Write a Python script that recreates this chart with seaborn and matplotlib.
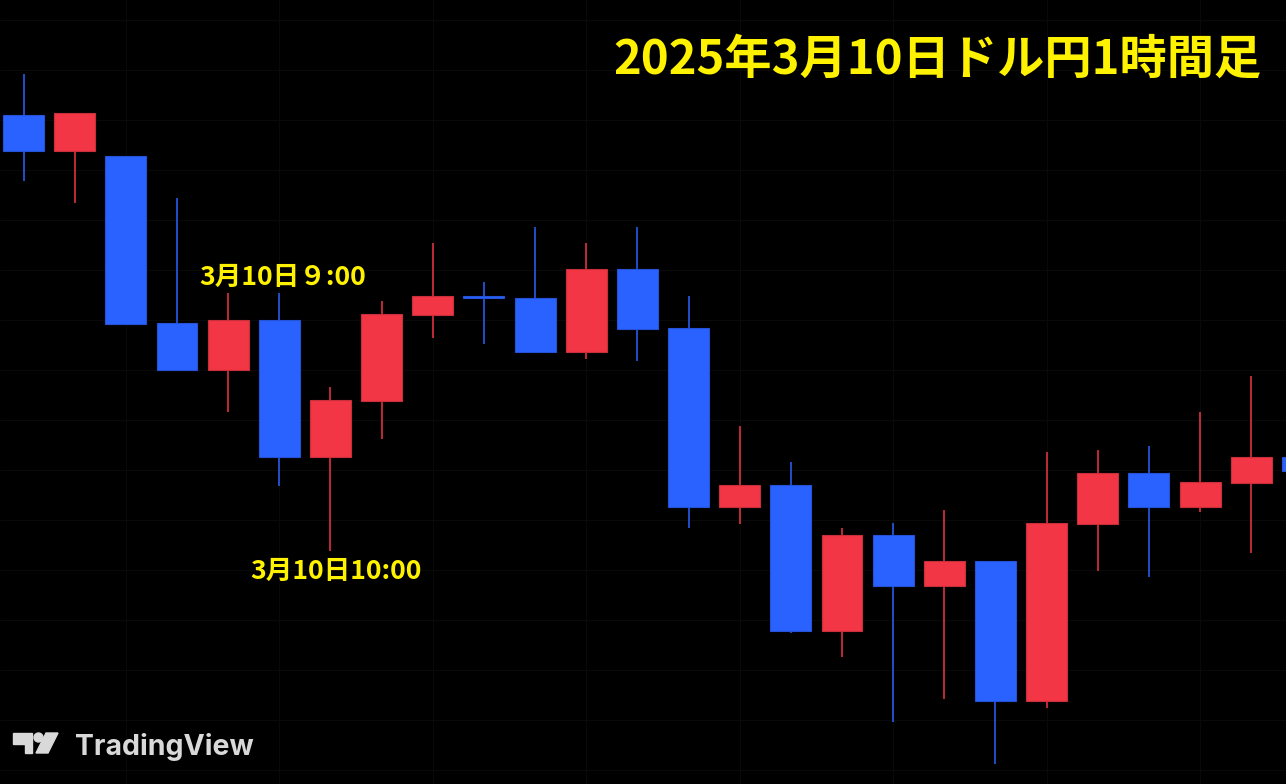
import pandas as pd
import numpy as np
import matplotlib.pyplot as plt
import matplotlib.patches as mpatches
import seaborn as sns

# USD/JPY 1h candles, 2025-03-10 (JST)
times = pd.date_range("2025-03-10 04:00", periods=26, freq="h")
opens = [147.910, 147.838, 147.828, 147.494, 147.400, 147.500, 147.226, 147.338,
         147.510, 147.548, 147.544, 147.436, 147.602, 147.484, 147.126, 147.170,
         146.878, 147.070, 146.968, 147.018, 146.738, 147.092, 147.194, 147.126,
         147.174, 147.226]
highs = [147.992, 147.914, 147.828, 147.744, 147.554, 147.554, 147.366, 147.538,
         147.654, 147.576, 147.686, 147.654, 147.686, 147.548, 147.288, 147.216,
         147.084, 147.094, 147.120, 147.018, 147.236, 147.240, 147.248, 147.316,
         147.388, 147.260]
lows = [147.778, 147.734, 147.492, 147.400, 147.316, 147.168, 147.038, 147.262,
        147.464, 147.452, 147.436, 147.422, 147.418, 147.084, 147.092, 146.874,
        146.826, 146.696, 146.742, 146.612, 146.724, 146.998, 146.986, 147.116,
        147.034, 147.170]
closes = [147.838, 147.914, 147.492, 147.400, 147.500, 147.226, 147.340, 147.512,
          147.548, 147.544, 147.436, 147.602, 147.482, 147.126, 147.170, 146.878,
          147.070, 146.968, 147.018, 146.738, 147.094, 147.194, 147.126, 147.176,
          147.226, 147.198]

title = "2025年3月10日ドル円1時間足"
label_9 = "3月10日９:00"
label_10 = "3月10日10:00"

df = pd.DataFrame({"time": times, "open": opens, "high": highs,
                   "low": lows, "close": closes})
df["x"] = np.arange(len(df))
df["up"] = df["close"] >= df["open"]

UP = "#F23645"     # red = rising
DOWN = "#2962FF"   # blue = falling
UP_EDGE = "#C7303B"
DOWN_EDGE = "#2552D6"

sns.set_theme(style="dark")
plt.rcParams["font.family"] = ["Noto Sans CJK JP", "DejaVu Sans"]

W, H = 1286, 784
fig = plt.figure(figsize=(W / 100, H / 100), dpi=100, facecolor="black")
ax = fig.add_axes([0, 0, 1, 1])
ax.set_facecolor("black")

# -------------------------------
# candles
# -------------------------------
cols = np.where(df["up"], UP, DOWN)
edges = np.where(df["up"], UP_EDGE, DOWN_EDGE)
body_lo = np.minimum(df["open"], df["close"])
body_h = (df["open"] - df["close"]).abs()

ax.vlines(df["x"], df["low"], df["high"], colors=cols, linewidth=1.1, zorder=2)
ax.bar(df["x"], body_h, bottom=body_lo, width=0.8, color=cols,
       edgecolor=edges, linewidth=0.8, zorder=3)

ax.set_xlim(-0.46, 24.68)
ax.set_ylim(146.572, 148.14)

# very faint TradingView-style grid
ax.set_xticks(np.arange(2, 26, 3))
ax.set_yticks(np.arange(146.6, 148.2, 0.1))
ax.grid(True, color="#090909", linewidth=0.8)
ax.tick_params(length=0, labelbottom=False, labelleft=False)
for s in ax.spines.values():
    s.set_visible(False)

# -------------------------------
# texts
# -------------------------------
ax.text(1262 / W, 1 - 60 / H, title, transform=ax.transAxes, ha="right",
        va="center", color="#FFF200", fontsize=34, fontweight="bold")

ax.annotate(label_9, xy=(5, highs[5]), xytext=(2.5, 11), textcoords="offset points",
            ha="center", va="center", color="#FFF200", fontsize=19.2, fontweight="bold")
ax.annotate(label_10, xy=(6, lows[6]), xytext=(4.3, -15), textcoords="offset points",
            ha="center", va="center", color="#FFF200", fontsize=19.2, fontweight="bold")

# TradingView watermark
def px(x, y):
    return (x / W, 1 - y / H)

logo_col = "#D9D9D9"
fig.patches.append(mpatches.Polygon(
    [px(13, 733), px(32, 733), px(32, 753), px(25, 753), px(25, 744), px(13, 744)],
    closed=True, transform=fig.transFigure, color=logo_col))
fig.patches.append(mpatches.Ellipse(px(38.5, 737.5), 9 / W, 9 / H,
                                    transform=fig.transFigure, color=logo_col))
fig.patches.append(mpatches.Polygon(
    [px(46, 733), px(58, 733), px(48, 753), px(36, 753)],
    closed=True, transform=fig.transFigure, color=logo_col))
fig.text(75 / W, 1 - 755 / H, "TradingView", color=logo_col, fontsize=20.5,
         fontweight="bold", family=["Inter", "DejaVu Sans"], va="baseline")

fig.savefig("out.png", dpi=100, facecolor="black")
